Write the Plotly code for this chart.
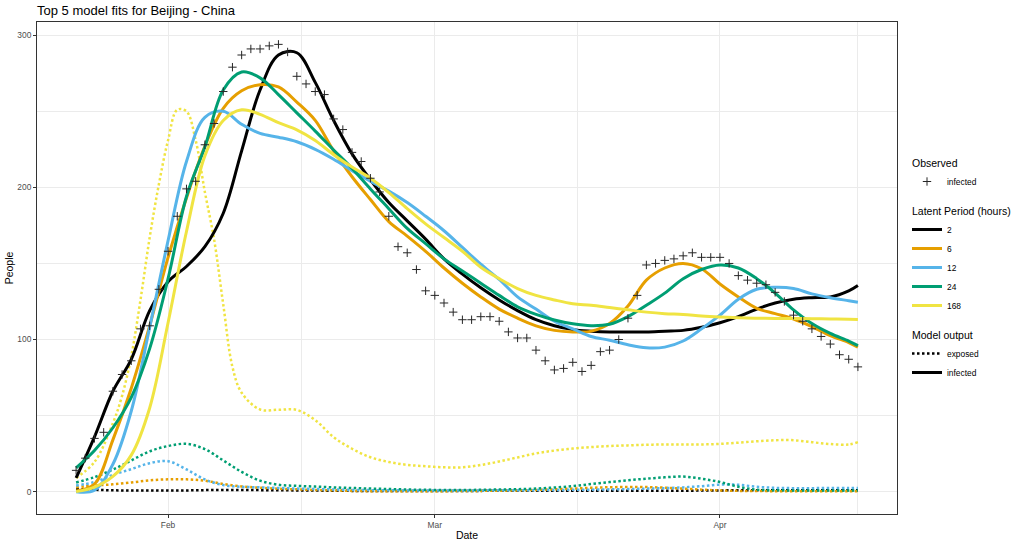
import pandas as pd
import plotly.graph_objects as go

# ---------------- data ----------------
start_date = "2020-01-22"
obs_days = list(range(86))
obs_infected = [14, 22, 35, 39, 66, 77, 86, 107, 109, 133,
                158, 181, 199, 204, 228, 242, 263, 279, 287, 291,
                291, 293, 294, 289, 273, 268, 263, 261, 245, 238,
                223, 217, 206, 197, 181, 161, 157, 146, 132, 129,
                124, 118, 113, 113, 115, 115, 112, 105, 101, 101,
                93, 86, 80, 81, 85, 79, 83, 92, 93, 100,
                114, 129, 149, 150, 152, 153, 155, 157, 154, 154,
                154, 150, 142, 139, 137, 136, 131, 125, 116, 112,
                107, 102, 97, 90, 87, 82]

latent_periods = ["2", "6", "12", "24", "168"]
latent_colors = ["#000000", "#E69F00", "#56B4E9", "#009E73", "#F0E442"]

model_days = list(range(0, 85, 2)) + [85]

infected_2 = [9, 36, 66, 87, 119, 138, 148, 161, 183, 224,
              264, 287, 288.5, 269, 244, 222, 205, 190, 178, 166,
              153, 143, 134, 126, 119, 113, 109, 106.5, 105.5, 105,
              105, 105, 105.5, 106, 108, 111, 115, 120, 124, 126.5,
              127.5, 128, 132, 135.5]
infected_6 = [0.5, 5, 34, 68, 109, 154, 193, 227, 252, 263.5,
              267.5, 266, 256, 244, 224, 207, 192, 177.5, 168, 158,
              147, 137, 128, 120, 114, 109, 106, 105, 105.5, 110.5,
              122, 139, 147, 150, 146.5, 136.5, 128, 120.5, 117, 113.5,
              108.5, 102.5, 98, 95]
infected_12 = [0, 1, 18, 53, 108, 165, 217, 246, 250, 241.5,
               235.5, 233, 230, 225, 218.5, 211, 204, 197.5, 190, 181,
               171.5, 160.5, 149.5, 139.5, 128, 120, 112, 107, 102, 99.5,
               96.5, 94.5, 95, 99, 107, 116, 126.5, 133, 134.3, 133.5,
               130, 127.5, 125.5, 124.5]
infected_24 = [15.6, 27, 42, 62, 94, 140, 194, 226.6, 264, 275.8,
               272, 261, 249, 237, 224.6, 212.5, 199, 186, 173, 163,
               153, 145, 137, 129, 121.5, 116.5, 112.8, 110.3, 109.1, 110,
               115, 122.5, 130.5, 140, 146, 149, 147, 140, 130.5, 119.5,
               110.5, 104, 99, 96]
infected_168 = [0, 3, 10, 24, 55, 111, 171, 220.7, 244, 251,
                248, 242.5, 237.8, 230.8, 221.5, 213.4, 206, 196.6, 186, 176,
                167, 158, 147.5, 140, 133.5, 129, 126, 123.5, 122.5, 121,
                119.5, 118, 117, 116.5, 115.5, 114.8, 114.3, 114, 113.8, 113.8,
                113.7, 113.5, 113.3, 113.2]

exposed_2 = [1.8, 1.2, 0.9, 0.7, 0.7, 0.7, 0.8, 1.0, 1.1, 1.1,
             1.0, 0.9, 0.8, 0.7, 0.6, 0.5, 0.5, 0.5, 0.5, 0.5,
             0.5, 0.5, 0.5, 0.6, 0.6, 0.6, 0.6, 0.6, 0.6, 0.6,
             0.6, 0.6, 0.6, 0.6, 0.7, 0.8, 0.9, 0.9, 0.9, 0.9,
             0.9, 0.9, 0.9, 0.9]
exposed_6 = [2.8, 4, 4.8, 6, 7.4, 8.1, 8.1, 7.2, 5, 3.4,
             2.6, 1.9, 1.5, 1.1, 0.8, 0.5, 0.3, 0.3, 0.3, 0.3,
             0.3, 0.4, 0.5, 0.6, 0.8, 1.1, 1.5, 2, 2.5, 2.9,
             3, 3, 2.6, 2, 1.3, 0.8, 0.5, 0.4, 0.3, 0.3,
             0.3, 0.3, 0.3, 0.3]
exposed_12 = [4, 6.3, 11, 14.8, 18.7, 20, 14.6, 8, 4.3, 3.2,
              2.8, 2.4, 2, 1.7, 1.4, 1.1, 1.0, 0.9, 0.8, 0.8,
              0.8, 0.8, 0.8, 0.9, 0.9, 1.0, 1.1, 1.2, 1.3, 1.5,
              1.7, 2.0, 2.3, 2.8, 3.6, 4.6, 4.5, 3.2, 2.5, 2.3,
              2.3, 2.4, 2.4, 2.4]
exposed_24 = [6, 9.5, 14.5, 20.5, 26.5, 30, 31.4, 28, 20.5, 13,
              7.2, 4.5, 3.8, 3.3, 2.8, 2.4, 2, 1.7, 1.4, 1.2,
              1.1, 1.1, 1.2, 1.4, 1.6, 2, 2.7, 3.6, 5, 6.3,
              7.5, 8.5, 9.4, 9.9, 8.5, 6.3, 3.2, 1.3, 0.9, 0.8,
              0.7, 0.7, 0.7, 0.7]
exposed_168_days = [0, 2, 4, 5, 6, 7, 8, 9, 10, 11, 12, 13, 14, 15, 16, 17, 18] \
    + list(range(20, 85, 2)) + [85]
exposed_168 = [9, 19.5, 45, 63, 89, 126, 167, 202, 231, 251,
               250, 231, 197, 166, 123, 82, 65,
               54, 53.8, 53.7, 47, 35.8, 28.2, 22.6, 19.5, 17.6, 16.7,
               16, 16, 17.5, 19.8, 22.5, 25.1, 27, 28.3, 29.3, 30,
               30.4, 30.8, 31, 31, 31, 31.4, 32.2, 33.1, 33.8, 33.8,
               32.5, 31.3, 31, 32.5]

infected_series = [infected_2, infected_6, infected_12, infected_24, infected_168]
exposed_series = [exposed_2, exposed_6, exposed_12, exposed_24, exposed_168]
exposed_day_sets = [model_days, model_days, model_days, model_days, exposed_168_days]

x_ticks = ["2020-02-01", "2020-03-01", "2020-04-01"]
x_tick_text = ["Feb", "Mar", "Apr"]
x_minor = ["2020-02-15 12:00", "2020-03-16 12:00", "2020-04-16"]
y_ticks = [0, 100, 200, 300]
y_minor = [50, 150, 250]

# --------------- figure ---------------
t0 = pd.Timestamp(start_date)
def to_dates(days):
    return [t0 + pd.Timedelta(days=d) for d in days]

fig = go.Figure()

SOLID_W = 3
DOT_W = 2.5
DOT_DASH = "2.5px,2.5px"

for days, ser, col in zip(exposed_day_sets, exposed_series, latent_colors):
    fig.add_trace(go.Scatter(x=to_dates(days), y=ser, mode="lines",
                             line=dict(color=col, width=DOT_W, dash=DOT_DASH, shape="spline"),
                             showlegend=False, hoverinfo="skip"))
for ser, col in zip(infected_series, latent_colors):
    fig.add_trace(go.Scatter(x=to_dates(model_days), y=ser, mode="lines",
                             line=dict(color=col, width=SOLID_W, shape="spline"),
                             showlegend=False, hoverinfo="skip"))

fig.add_trace(go.Scatter(x=to_dates(obs_days), y=obs_infected, mode="markers",
                         marker=dict(symbol="cross-thin", size=6,
                                     line=dict(width=1, color="#262626")),
                         name="infected", legendgroup="obs",
                         legendgrouptitle=dict(text="Observed"), legendrank=1))

# legend keys
for i, (lab, col) in enumerate(zip(latent_periods, latent_colors)):
    fig.add_trace(go.Scatter(x=[None], y=[None], mode="lines",
                             line=dict(color=col, width=SOLID_W),
                             name=lab, legendgroup="lat",
                             legendgrouptitle=dict(text="Latent Period (hours)"),
                             legendrank=10 + i))
fig.add_trace(go.Scatter(x=[None], y=[None], mode="lines",
                         line=dict(color="#000000", width=DOT_W, dash=DOT_DASH),
                         name="exposed", legendgroup="out",
                         legendgrouptitle=dict(text="Model output"), legendrank=30))
fig.add_trace(go.Scatter(x=[None], y=[None], mode="lines",
                         line=dict(color="#000000", width=SOLID_W),
                         name="infected", legendgroup="out",
                         legendgrouptitle=dict(text="Model output"), legendrank=31))

FONT = "Liberation Sans, Arial, sans-serif"
axis_common = dict(showline=True, linecolor="#333333", linewidth=1, mirror=True,
                   ticks="outside", ticklen=3, tickcolor="#333333", tickwidth=1,
                   tickfont=dict(family=FONT, size=8.4, color="#4D4D4D"),
                   showgrid=True, gridcolor="#EBEBEB", gridwidth=1, zeroline=False,
                   automargin=False)

fig.update_layout(
    width=1024, height=546, autosize=False,
    margin=dict(l=37, r=127, t=22, b=32, pad=0),
    paper_bgcolor="white", plot_bgcolor="white",
    font=dict(family=FONT, color="#000000"),
    title=dict(text="Top 5 model fits for Beijing - China", x=0, xref="paper", xanchor="left",
               y=1 - 10 / 546, yref="container", yanchor="middle",
               font=dict(family=FONT, size=13, color="#000000")),
    xaxis=dict(type="date", range=["2020-01-17 18:00", "2020-04-20 06:00"],
               tickvals=x_ticks, ticktext=x_tick_text,
               minor=dict(tickvals=x_minor, showgrid=True, gridcolor="#EBEBEB", gridwidth=0.6, ticks=""),
               title=dict(text="Date", font=dict(family=FONT, size=10.5), standoff=2),
               **axis_common),
    yaxis=dict(range=[-14.7, 308.7], tickvals=y_ticks,
               minor=dict(tickvals=y_minor, showgrid=True, gridcolor="#EBEBEB", gridwidth=0.6, ticks=""),
               title=dict(text="People", font=dict(family=FONT, size=10.5), standoff=1),
               **axis_common),
    legend=dict(xref="container", x=907 / 1024, xanchor="left",
                yref="container", y=1 - 148 / 546, yanchor="top",
                traceorder="grouped", tracegroupgap=10,
                font=dict(family=FONT, size=8.4, color="#000000"),
                grouptitlefont=dict(family=FONT, size=10.5, color="#000000"),
                bgcolor="rgba(0,0,0,0)", itemwidth=30),
)

fig.write_html("out.html")
